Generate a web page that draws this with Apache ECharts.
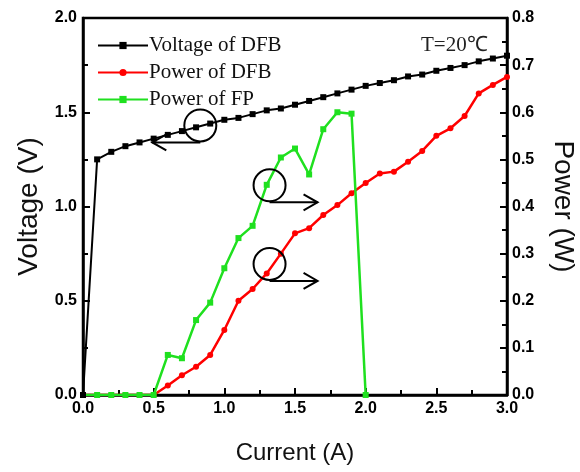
<!DOCTYPE html>
<html>
<head>
<meta charset="utf-8">
<script src="https://cdn.jsdelivr.net/npm/echarts@6/dist/echarts.min.js"></script>
<style>
  html, body { margin: 0; padding: 0; background: #fff; }
  #myChart { width: 580px; height: 472px; }
</style>
</head>
<body>
<div id="myChart"></div>
<script>
// current (A), every 0.1 A
var current = [0.0, 0.1, 0.2, 0.3, 0.4, 0.5, 0.6, 0.7, 0.8, 0.9, 1.0, 1.1, 1.2, 1.3, 1.4, 1.5,
               1.6, 1.7, 1.8, 1.9, 2.0, 2.1, 2.2, 2.3, 2.4, 2.5, 2.6, 2.7, 2.8, 2.9, 3.0];
// Voltage of DFB (V), left axis
var voltageDFB = [0, 1.25, 1.29, 1.32, 1.34, 1.36, 1.38, 1.40, 1.42, 1.44, 1.46, 1.47, 1.49, 1.51, 1.52, 1.54,
                  1.56, 1.58, 1.60, 1.62, 1.64, 1.655, 1.67, 1.69, 1.70, 1.72, 1.735, 1.75, 1.77, 1.785, 1.80];
// Power of DFB (W), right axis
var powerDFB = [0, 0, 0, 0, 0, 0, 0.02, 0.042, 0.06, 0.085, 0.138, 0.20, 0.225, 0.258, 0.30, 0.343,
                0.354, 0.382, 0.403, 0.428, 0.45, 0.47, 0.474, 0.495, 0.518, 0.55, 0.566, 0.592, 0.64, 0.658, 0.675];
// Power of FP (W), right axis, 0 .. 2.0 A
var powerFP = [0, 0, 0, 0, 0, 0, 0.085, 0.078, 0.159, 0.196, 0.269, 0.333, 0.359, 0.446, 0.504, 0.523,
               0.468, 0.564, 0.60, 0.597, 0];

// circle + arrow annotations: [x, y, yAxisIndex, direction]
var notes = [
  [0.83, 1.43, 0, -1],
  [1.32, 0.445, 1, 1],
  [1.32, 0.278, 1, 1]
];

function pairs(xs, ys) {
  var res = [];
  for (var i = 0; i < ys.length; i++) res.push([xs[i], ys[i]]);
  return res;
}

var myChart = echarts.init(document.getElementById('myChart'));

var tickFont = { color: '#000', fontFamily: 'Liberation Sans', fontWeight: 'bold', fontSize: 16 };
var axisLine = { show: true, onZero: false, lineStyle: { color: '#000', width: 2.5 } };
var tick = { inside: true, length: 7, lineStyle: { color: '#000', width: 2 } };
var minor = { show: true, splitNumber: 2, length: 5, lineStyle: { color: '#000', width: 2 } };
var fmt = function (v) { return v.toFixed(1); };

myChart.setOption({
  animation: false,
  backgroundColor: '#fff',
  title: {
    text: 'T=20\u2103',
    left: 416, top: 30,
    textStyle: { fontFamily: 'Liberation Serif', fontWeight: 'normal', fontSize: 21, color: '#222' }
  },
  legend: {
    orient: 'vertical',
    left: 92, top: 30,
    itemWidth: 50, itemHeight: 9, itemGap: 6,
    textStyle: { fontFamily: 'Liberation Serif', fontSize: 21, color: '#111', padding: [0, 0, 0, -4] },
    data: ['Voltage of DFB', 'Power of DFB', 'Power of FP']
  },
  grid: {
    left: 83, right: 73, top: 18, bottom: 77,
    containLabel: false, outerBoundsMode: 'none',
    show: true, borderColor: '#000', borderWidth: 2.5
  },
  xAxis: {
    type: 'value', min: 0, max: 3, interval: 0.5,
    name: 'Current (A)', nameLocation: 'middle', nameGap: 46,
    nameTextStyle: { fontFamily: 'Liberation Sans', fontSize: 24, color: '#111' },
    axisLine: axisLine, axisTick: tick, minorTick: minor,
    splitLine: { show: false },
    axisLabel: Object.assign({ margin: 6, formatter: fmt }, tickFont)
  },
  yAxis: [{
    type: 'value', min: 0, max: 2, interval: 0.5, position: 'left',
    name: 'Voltage (V)', nameLocation: 'middle', nameGap: 40,
    nameTextStyle: { fontFamily: 'Liberation Sans', fontSize: 28, color: '#111' },
    axisLine: axisLine, axisTick: tick, minorTick: minor,
    splitLine: { show: false },
    axisLabel: Object.assign({ margin: 6, formatter: fmt }, tickFont)
  }, {
    type: 'value', min: 0, max: 0.8, interval: 0.1, position: 'right',
    name: 'Power (W)', nameLocation: 'middle', nameGap: 42, nameRotate: -90,
    nameTextStyle: { fontFamily: 'Liberation Sans', fontSize: 28, color: '#111' },
    axisLine: axisLine, axisTick: tick, minorTick: minor,
    splitLine: { show: false },
    axisLabel: Object.assign({ margin: 5, formatter: fmt }, tickFont)
  }],
  series: [{
    name: 'Voltage of DFB', type: 'line', yAxisIndex: 0,
    data: pairs(current, voltageDFB),
    symbol: 'rect', symbolSize: 6, color: '#000',
    lineStyle: { color: '#000', width: 2 },
    z: 4
  }, {
    name: 'Power of DFB', type: 'line', yAxisIndex: 1,
    data: pairs(current, powerDFB),
    symbol: 'circle', symbolSize: 6, color: '#f00',
    lineStyle: { color: '#f00', width: 2.5 },
    z: 2
  }, {
    name: 'Power of FP', type: 'line', yAxisIndex: 1,
    data: pairs(current, powerFP),
    symbol: 'rect', symbolSize: 6, color: '#1fe01f',
    lineStyle: { color: '#1fe01f', width: 2.5 },
    z: 3
  }]
});

// draw the circle/arrow marks at their data positions
var gfx = [];
notes.forEach(function (n) {
  var p = myChart.convertToPixel({ xAxisIndex: 0, yAxisIndex: n[2] }, [n[0], n[1]]);
  var r = 16, len = 48, dir = n[3];
  var y0 = p[1] + r + 1;
  var tip = p[0] + dir * len;
  gfx.push({ type: 'circle', shape: { cx: p[0], cy: p[1], r: r },
             style: { fill: 'none', stroke: '#000', lineWidth: 2 }, z: 10 });
  gfx.push({ type: 'polyline', shape: { points: [[p[0], y0], [tip, y0]] },
             style: { stroke: '#000', lineWidth: 2 }, z: 10 });
  gfx.push({ type: 'polyline', shape: { points: [[tip - dir * 14, y0 - 8], [tip, y0], [tip - dir * 14, y0 + 8]] },
             style: { stroke: '#000', lineWidth: 2, fill: 'none' }, z: 10 });
});
myChart.setOption({ graphic: gfx });
</script>
</body>
</html>
